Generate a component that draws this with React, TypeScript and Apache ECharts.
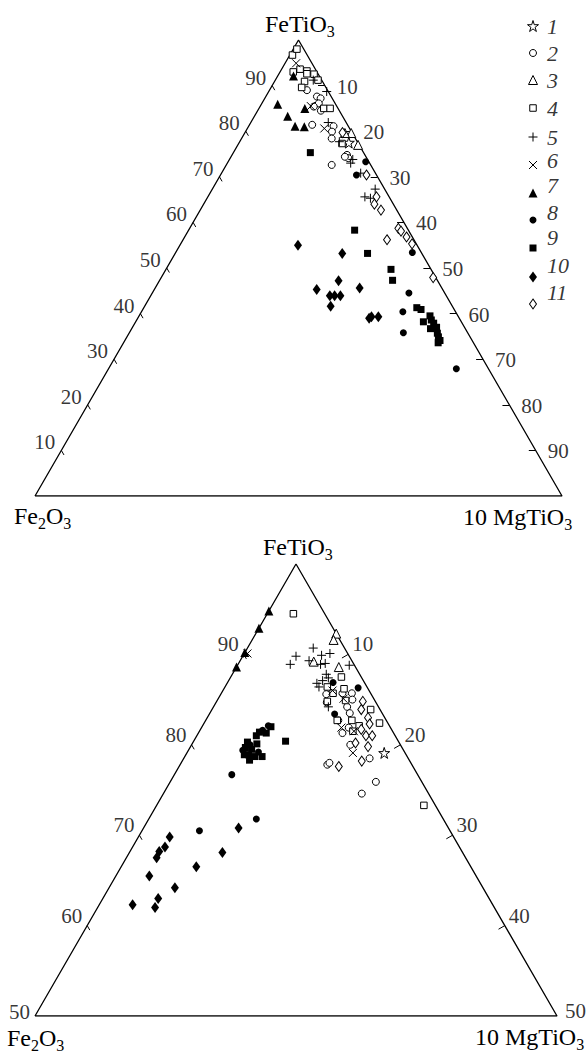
import React, { useEffect, useRef } from "react";
import * as echarts from "echarts";

const H = Math.sqrt(3) / 2;
const FONT = '"Liberation Serif", "Times New Roman", serif';

// ---- Data: each point is [FeTiO3, MgTiO3] in %, Fe2O3 = 100 - FeTiO3 - MgTiO3 ----
// Upper diagram
const top1 = [[77.5, 20.8]];
const top2 = [[89.0, 7.1], [87.6, 9.7], [87.2, 10.6], [86.1, 10.8], [85.4, 10.2], [84.5, 12.0], [81.4, 11.9], [81.1, 16.1], [79.9, 16.4], [78.4, 17.1], [74.8, 21.8], [74.1, 22.4], [72.6, 20.0], [74.4, 21.6]];
const top3 = [[79.6, 20.2], [79.6, 19.0], [77.0, 22.8]];
const top4 = [[96.7, 0.5], [98.0, 0.7], [93.6, 3.5], [93.0, 2.5], [93.2, 5.0], [92.5, 6.7], [91.2, 8.1], [90.9, 5.7], [89.6, 5.8], [92.6, 5.3], [85.0, 12.3], [85.0, 13.5], [77.3, 19.6]];
const top5 = [[91.2, 7.2], [88.7, 11.0], [81.9, 14.7], [77.7, 18.9], [73.8, 23.4], [73.0, 23.4], [70.8, 26.4], [67.3, 30.9], [65.6, 29.8], [65.3, 31.0]];
const top6 = [[94.9, 2.1], [85.5, 9.6], [80.6, 14.6]];
const top7 = [[92.1, 3.0], [85.9, 3.1], [83.3, 6.3], [81.1, 8.8], [81.0, 10.6], [85.0, 8.7]];
const top8 = [[73.3, 26.1], [70.4, 25.8], [53.4, 44.9], [44.5, 48.7], [40.4, 49.6], [35.8, 52.0], [27.9, 66.0]];
const top9 = [[75.3, 14.6], [58.3, 31.5], [53.2, 36.5], [49.7, 42.7], [47.3, 44.2], [41.3, 51.8], [40.9, 52.8], [39.5, 55.2], [38.6, 55.9], [38.2, 54.6], [37.9, 56.7], [36.7, 56.7], [37.0, 57.7], [35.7, 58.5], [34.9, 59.1], [34.1, 59.8], [33.6, 59.7]];
const top10 = [[55.0, 22.4], [53.2, 31.7], [47.2, 34.0], [45.3, 30.8], [45.6, 38.8], [43.9, 34.0], [43.9, 34.9], [43.9, 36.0], [41.6, 35.3], [39.0, 43.9], [39.3, 44.2], [39.3, 45.5]];
const top11 = [[79.7, 18.5], [70.4, 27.7], [65.6, 32.0], [64.0, 32.4], [62.7, 34.3], [58.7, 39.6], [58.1, 40.4], [56.8, 42.1], [55.3, 43.9], [56.2, 38.7], [47.9, 51.6]];

// Lower diagram (FeTiO3 50-100 %)
const bot1 = [[79.1, 18.9]];
const bot2 = [[85.6, 10.1], [85.7, 11.6], [85.7, 12.5], [84.7, 10.6], [85.0, 12.9], [84.2, 12.8], [83.5, 13.4], [81.9, 14.1], [81.3, 13.8], [80.0, 15.2], [78.5, 17.8], [77.8, 14.1], [78.0, 14.2], [75.9, 19.7], [74.6, 19.0], [82.7, 12.7]];
const bot3 = [[92.3, 7.7], [91.6, 7.8], [89.2, 7.1], [88.6, 9.8]];
const bot4 = [[94.5, 2.5], [73.3, 25.6], [87.5, 10.6], [86.4, 9.8], [86.2, 11.5], [84.9, 12.3], [83.9, 15.2], [82.7, 12.6], [82.7, 14.0], [82.4, 16.8], [82.1, 15.0], [85.7, 10.7], [84.8, 10.6], [81.5, 14.7]];
const bot5 = [[90.7, 6.3], [89.8, 5.1], [88.9, 5.0], [89.9, 7.5], [90.1, 8.2], [89.3, 6.6], [88.9, 7.9], [89.0, 8.3], [88.8, 10.7], [87.8, 9.0], [87.4, 9.4], [86.8, 8.6], [86.4, 9.0], [84.2, 11.0], [87.1, 9.0]];
const bot6 = [[86.0, 10.5], [85.1, 12.0], [81.9, 13.4], [81.5, 14.8], [79.1, 15.9], [90.1, 0.3]];
const bot7 = [[94.8, 0], [92.9, 0], [90.2, 0], [88.6, 0]];
const bot8 = [[86.9, 10.1], [86.3, 12.8], [83.4, 12.0], [76.7, 5.5], [70.5, 5.5], [71.8, 10.3], [82.1, 6.3], [81.6, 6.0], [80.0, 5.6], [79.2, 6.8], [79.4, 5.2]];
const bot9 = [[80.4, 8.8], [82.0, 6.6], [81.4, 5.8], [81.0, 5.7], [81.3, 6.5], [80.3, 5.2], [79.7, 5.3], [79.5, 6.0], [78.9, 6.0], [78.7, 6.7], [78.3, 6.4], [78.7, 7.4], [78.9, 5.6], [80.1, 6.2]];
const bot10 = [[70.8, 9.1], [69.8, 3.0], [68.7, 3.1], [68.2, 2.8], [67.5, 2.9], [68.1, 8.9], [65.5, 3.2], [66.5, 7.2], [64.2, 6.3], [63.0, 5.3], [62.0, 5.5], [62.3, 3.2]];
const bot11 = [[84.8, 14.0], [83.9, 14.3], [83.0, 15.4], [82.3, 15.9], [81.7, 15.4], [81.0, 16.2], [81.0, 16.8], [80.2, 15.6], [79.8, 17.0], [78.2, 17.2], [77.6, 15.3]];

// Ticks
const topTicks = [10, 20, 30, 40, 50, 60, 70, 80, 90];
const botLeftTicks = [60, 70, 80, 90];
const botRightTicks = [10, 20, 30, 40];
const legendNames = ["1", "2", "3", "4", "5", "6", "7", "8", "9", "10", "11"];

// ---- Layout / style ----
const STAR = "path://M50,0L61.2,34.5L97.6,34.5L68.2,55.9L79.4,90.5L50,69.1L20.6,90.5L31.8,55.9L2.4,34.5L38.8,34.5Z";
const MARKERS: any[] = [
  { symbol: STAR, size: 11, fill: "#fff" },
  { symbol: "circle", size: 7, fill: "#fff" },
  { symbol: "triangle", size: 9, fill: "#fff" },
  { symbol: "rect", size: 6.5, fill: "#fff" },
  { symbol: "path://M5,0L5,10M0,5L10,5", size: 9, fill: "transparent" },
  { symbol: "path://M0,0L10,10M10,0L0,10", size: 8, fill: "transparent" },
  { symbol: "triangle", size: 9, fill: "#000" },
  { symbol: "circle", size: 7, fill: "#000" },
  { symbol: "rect", size: 7, fill: "#000" },
  { symbol: "diamond", size: [8, 11], fill: "#000" },
  { symbol: "diamond", size: [7, 10], fill: "#fff" },
];
const LEGEND_X = 533;
const LEGEND_Y = [26, 53, 80, 108, 137, 165, 193, 220, 248, 277, 304];
const LEGEND_DY = [0, 0, 0, 0, 0, -5, -8, -8, -11, -12, -12];
const LEGEND_TEXT_X = 547;

const topXY = (p: number[]) => [(p[1] + p[0] / 2) / 100, (p[0] / 100) * H];
const botXY = (p: number[]) => [(p[1] + (p[0] - 50) / 2) / 50, ((p[0] - 50) / 50) * H];

function measure(text: string, size: number) {
  const ctx = document.createElement("canvas").getContext("2d")!;
  ctx.font = `${size}px ${FONT}`;
  return ctx.measureText(text).width;
}

function formula(parts: [string, boolean][], x: number, baseline: number) {
  const els: any[] = [];
  let cx = x;
  for (const [s, sub] of parts) {
    const fs = sub ? 16 : 24;
    const by = sub ? baseline + 5 : baseline;
    els.push({
      type: "text",
      x: cx,
      y: by - 0.34 * fs,
      silent: true,
      style: { text: s, fontSize: fs, fontFamily: FONT, fill: "#000", align: "left", verticalAlign: "middle" },
    });
    cx += measure(s, fs);
  }
  return els;
}

function markerStyle(i: number) {
  const m = MARKERS[i];
  const open = m.fill !== "#000";
  return {
    symbol: m.symbol,
    symbolSize: m.size,
    itemStyle: { color: m.fill, borderColor: "#000", borderWidth: open ? 1 : 0, opacity: 1 },
  };
}

function labelSeries(ax: number, pts: number[][], names: string[], position: string, distance: number, offset: number[]) {
  return {
    type: "scatter",
    xAxisIndex: ax,
    yAxisIndex: ax,
    silent: true,
    symbolSize: 0,
    itemStyle: { color: "transparent" },
    z: 5,
    data: pts.map((p, i) => ({ name: names[i], value: p })),
    label: {
      show: true,
      position,
      distance,
      offset,
      formatter: "{b}",
      fontFamily: FONT,
      fontSize: 21,
      color: "#000",
    },
  };
}

function buildOption() {
  const topGroups = [top1, top2, top3, top4, top5, top6, top7, top8, top9, top10, top11];
  const botGroups = [bot1, bot2, bot3, bot4, bot5, bot6, bot7, bot8, bot9, bot10, bot11];
  const series: any[] = [];

  // frames
  series.push({
    type: "line", xAxisIndex: 0, yAxisIndex: 0, symbol: "none", silent: true,
    lineStyle: { color: "#000", width: 1.3 },
    data: [[0, 0], [0, 100], [100, 0], [0, 0]].map(topXY),
  });
  series.push({
    type: "line", xAxisIndex: 1, yAxisIndex: 1, symbol: "none", silent: true,
    lineStyle: { color: "#000", width: 1.3 },
    data: [[50, 0], [50, 50], [100, 0], [50, 0]].map(botXY),
  });

  // tick marks
  const tickSeg = (a: number[], b: number[]) => ({ coords: [a, b] });
  series.push({
    type: "lines", coordinateSystem: "cartesian2d", xAxisIndex: 0, yAxisIndex: 0, silent: true,
    lineStyle: { color: "#000", width: 1, opacity: 1 },
    data: [
      ...topTicks.map((t) => tickSeg(topXY([t, 0]), topXY([t - 1, 1]))),
      ...topTicks.map((m) => tickSeg(topXY([100 - m, m]), topXY([100 - m, m - 1.3]))),
    ],
  });
  series.push({
    type: "lines", coordinateSystem: "cartesian2d", xAxisIndex: 1, yAxisIndex: 1, silent: true,
    lineStyle: { color: "#000", width: 1, opacity: 1 },
    data: [
      ...botLeftTicks.map((t) => tickSeg(botXY([t, 0]), botXY([t - 0.5, 0.5]))),
      ...botRightTicks.map((m) => tickSeg(botXY([100 - m, m]), botXY([100 - m - 0.4, m - 0.4]))),
    ],
  });

  // tick labels
  const names = (a: number[]) => a.map(String);
  series.push(labelSeries(0, topTicks.map((t) => topXY([t, 0])), names(topTicks), "left", 6, [0, -8]));
  series.push(labelSeries(0, topTicks.map((m) => topXY([100 - m, m])), names(topTicks), "right", 12, [0, 1]));
  series.push(labelSeries(1, botLeftTicks.map((t) => botXY([t, 0])), names(botLeftTicks), "left", 5, [0, -10]));
  series.push(labelSeries(1, botRightTicks.map((m) => botXY([100 - m, m])), names(botRightTicks), "right", 4, [0, -10]));
  series.push(labelSeries(1, [botXY([50, 0])], ["50"], "left", 5, [0, -4]));
  series.push(labelSeries(1, [botXY([50, 50])], ["50"], "right", 8, [0, -5]));

  // data
  topGroups.forEach((g, i) => {
    series.push({ type: "scatter", name: legendNames[i], xAxisIndex: 0, yAxisIndex: 0, silent: true, z: 10, ...markerStyle(i), data: g.map(topXY) });
  });
  botGroups.forEach((g, i) => {
    series.push({ type: "scatter", name: legendNames[i], xAxisIndex: 1, yAxisIndex: 1, silent: true, z: 10, ...markerStyle(i), data: g.map(botXY) });
  });

  // legend (drawn in a page-sized grid)
  series.push({
    type: "scatter", xAxisIndex: 2, yAxisIndex: 2, silent: true, z: 10,
    data: legendNames.map((n, i) => {
      const s = markerStyle(i);
      return { value: [LEGEND_X, LEGEND_Y[i]], symbol: s.symbol, symbolSize: s.symbolSize, itemStyle: s.itemStyle };
    }),
  });
  series.push({
    type: "scatter", xAxisIndex: 2, yAxisIndex: 2, silent: true, symbolSize: 0, itemStyle: { color: "transparent" },
    data: legendNames.map((n, i) => ({ name: n, value: [LEGEND_TEXT_X, LEGEND_Y[i] + LEGEND_DY[i]] })),
    label: { show: true, position: "right", distance: 0, formatter: "{b}", fontFamily: FONT, fontSize: 22, fontStyle: "italic", color: "#000" },
  });

  const graphics = [
    ...formula([["FeTiO", false], ["3", true]], 265, 32),
    ...formula([["Fe", false], ["2", true], ["O", false], ["3", true]], 14, 524),
    ...formula([["10 MgTiO", false], ["3", true]], 463, 525),
    ...formula([["FeTiO", false], ["3", true]], 263, 555),
    ...formula([["Fe", false], ["2", true], ["O", false], ["3", true]], 7, 1046),
    ...formula([["10 MgTiO", false], ["3", true]], 475, 1045),
  ];

  const hidden = { show: false, splitLine: { show: false } };
  return {
    animation: false,
    backgroundColor: "#fff",
    grid: [
      { left: 35, top: 40, width: 527, height: 456 },
      { left: 35, top: 564, width: 522, height: 452 },
      { left: 0, top: 0, width: 588, height: 1057 },
    ],
    xAxis: [
      { gridIndex: 0, type: "value", min: 0, max: 1, ...hidden },
      { gridIndex: 1, type: "value", min: 0, max: 1, ...hidden },
      { gridIndex: 2, type: "value", min: 0, max: 588, ...hidden },
    ],
    yAxis: [
      { gridIndex: 0, type: "value", min: 0, max: H, ...hidden },
      { gridIndex: 1, type: "value", min: 0, max: H, ...hidden },
      { gridIndex: 2, type: "value", min: 0, max: 1057, inverse: true, ...hidden },
    ],
    graphic: graphics,
    series,
  };
}

export default function App() {
  const ref = useRef<HTMLDivElement>(null);
  useEffect(() => {
    const chart = echarts.init(ref.current!, null, { renderer: "svg" });
    chart.setOption(buildOption() as any);
    return () => chart.dispose();
  }, []);
  return (
    <div
      ref={ref}
      style={{ position: "absolute", left: 0, top: 0, width: 588, height: 1057, background: "#fff" }}
    />
  );
}
